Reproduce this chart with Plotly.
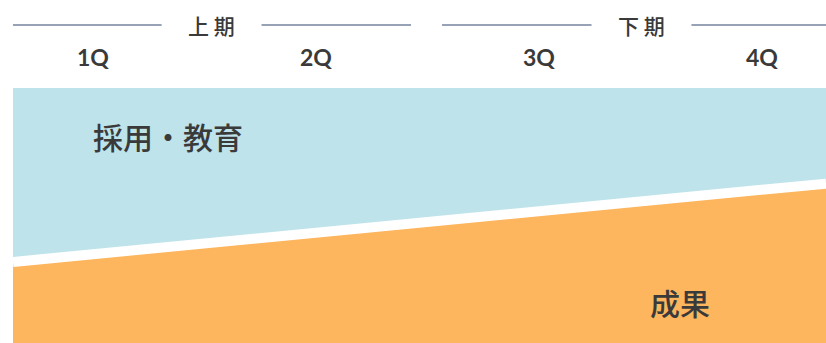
import plotly.graph_objects as go

# ---- data ----
quarters = ["1Q", "2Q", "3Q", "4Q"]
halves = ["上 期", "下 期"]
half_spans = [(-0.363, 1.426), (1.565, 3.354)]   # extent of each half-year header (x units)
periods = ["期首", "期末"]                        # start / end of the year
result_share = [31.8, 62.5]                       # boundary between 成果 and 採用・教育 (%)
area_labels = ["採用・教育", "成果"]

# ---- layout constants ----
X_RANGE = [-0.359, 3.287]
W, H = 826, 343
BLUE = "#BEE3EB"
ORANGE = "#FDB55E"
TEXT = "#3a3a3a"
RULE = "#98A2B6"

xs = [X_RANGE[0], X_RANGE[1]]

fig = go.Figure()
# 成果 (orange, bottom)
fig.add_trace(go.Scatter(x=xs, y=result_share, mode="lines", line=dict(width=0),
                         fill="tozeroy", fillcolor=ORANGE, hoverinfo="skip", showlegend=False))
# 採用・教育 (blue, top)
fig.add_trace(go.Scatter(x=xs, y=[100, 100], mode="lines", line=dict(width=0),
                         fill="tonexty", fillcolor=BLUE, hoverinfo="skip", showlegend=False))
# white separator
fig.add_trace(go.Scatter(x=xs, y=result_share, mode="lines", line=dict(width=10, color="white"),
                         hoverinfo="skip", showlegend=False))

annotations = []
shapes = []
# quarter labels
for i, q in enumerate(quarters):
    annotations.append(dict(x=i, y=1, xref="x", yref="paper", text=q, showarrow=False,
                            yanchor="middle", yshift=31,
                            font=dict(family="Lato, sans-serif", size=23, color=TEXT, weight="bold")))
# half headers
gap = 0.224
for name, (a, b) in zip(halves, half_spans):
    c = (a + b) / 2
    annotations.append(dict(x=c, y=1, xref="x", yref="paper", text=name, showarrow=False,
                            yanchor="middle", yshift=63,
                            font=dict(family="Noto Sans CJK JP", size=21, color=TEXT, weight=500)))
    for x0, x1 in [(a, c - gap), (c + gap, b)]:
        shapes.append(dict(type="line", xref="x", yref="paper", x0=x0, x1=x1,
                           y0=1 + 63 / 255, y1=1 + 63 / 255,
                           line=dict(color=RULE, width=2)))
# area labels
annotations.append(dict(x=0.336, y=81.2, xref="x", yref="y", text=area_labels[0], showarrow=False,
                        font=dict(family="Noto Sans CJK JP", size=30, color=TEXT, weight=500)))
annotations.append(dict(x=2.632, y=16.1, xref="x", yref="y", text=area_labels[1], showarrow=False,
                        font=dict(family="Noto Sans CJK JP", size=30, color=TEXT, weight=500)))

fig.update_layout(
    width=W, height=H,
    margin=dict(l=13, r=0, t=88, b=0),
    paper_bgcolor="white", plot_bgcolor="white",
    xaxis=dict(range=X_RANGE, visible=False, fixedrange=True),
    yaxis=dict(range=[0, 100], visible=False, fixedrange=True),
    annotations=annotations, shapes=shapes,
)
fig.write_html("out.html", config={"displayModeBar": False})
